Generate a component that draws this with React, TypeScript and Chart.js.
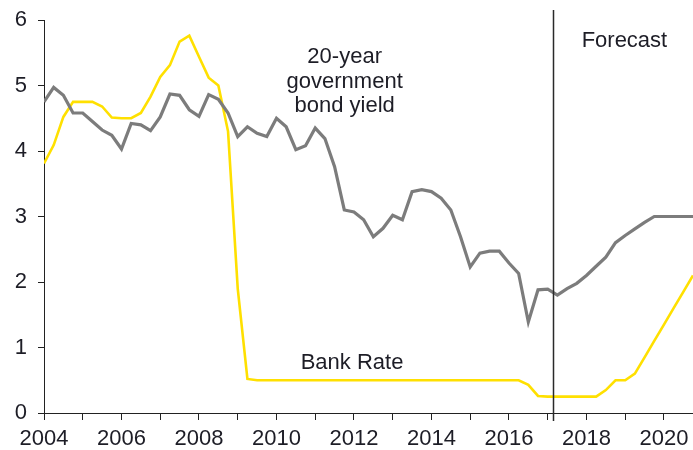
import React, { useEffect, useRef } from "react";
import { Chart, registerables } from "chart.js";

Chart.register(...registerables);

// Quarterly dates (decimal years)
const quarters: number[] = [
  2004.0, 2004.25, 2004.5, 2004.75, 2005.0, 2005.25, 2005.5, 2005.75,
  2006.0, 2006.25, 2006.5, 2006.75, 2007.0, 2007.25, 2007.5, 2007.75,
  2008.0, 2008.25, 2008.5, 2008.75, 2009.0, 2009.25, 2009.5, 2009.75,
  2010.0, 2010.25, 2010.5, 2010.75, 2011.0, 2011.25, 2011.5, 2011.75,
  2012.0, 2012.25, 2012.5, 2012.75, 2013.0, 2013.25, 2013.5, 2013.75,
  2014.0, 2014.25, 2014.5, 2014.75, 2015.0, 2015.25, 2015.5, 2015.75,
  2016.0, 2016.25, 2016.5, 2016.75, 2017.0, 2017.25, 2017.5, 2017.75,
  2018.0, 2018.25, 2018.5, 2018.75, 2019.0, 2019.25, 2019.5, 2019.75,
  2020.0, 2020.25, 2020.5, 2020.75,
];

// 20-year government bond yield (%)
const bondYield: number[] = [
  4.75, 4.97, 4.85, 4.58, 4.58, 4.45, 4.32, 4.24,
  4.03, 4.42, 4.4, 4.31, 4.52, 4.87, 4.85, 4.63,
  4.53, 4.86, 4.79, 4.58, 4.22, 4.37, 4.27, 4.22,
  4.5, 4.37, 4.02, 4.08, 4.35, 4.19, 3.76, 3.1,
  3.07, 2.95, 2.69, 2.82, 3.02, 2.95, 3.38, 3.41,
  3.38, 3.28, 3.1, 2.69, 2.23, 2.44, 2.47, 2.47,
  2.29, 2.13, 1.39, 1.88, 1.89, 1.8, 1.9, 1.98,
  2.1, 2.24, 2.38, 2.6, 2.71, 2.81, 2.91, 3.0,
  3.0, 3.0, 3.0, 3.0,
];

// Bank Rate (%)
const bankRate: number[] = [
  3.81, 4.09, 4.52, 4.75, 4.75, 4.75, 4.68, 4.51,
  4.5, 4.5, 4.58, 4.83, 5.13, 5.31, 5.67, 5.76,
  5.44, 5.12, 5.0, 4.3, 1.9, 0.52, 0.5, 0.5,
  0.5, 0.5, 0.5, 0.5, 0.5, 0.5, 0.5, 0.5,
  0.5, 0.5, 0.5, 0.5, 0.5, 0.5, 0.5, 0.5,
  0.5, 0.5, 0.5, 0.5, 0.5, 0.5, 0.5, 0.5,
  0.5, 0.5, 0.43, 0.26, 0.25, 0.25, 0.25, 0.25,
  0.25, 0.25, 0.35, 0.5, 0.5, 0.6, 0.85, 1.1,
  1.35, 1.6, 1.85, 2.1,
];

const yTicks: number[] = [0, 1, 2, 3, 4, 5, 6];
const xLabelYears: number[] = [2004, 2006, 2008, 2010, 2012, 2014, 2016, 2018, 2020];
const forecastStart = 2017.13;

const yieldLabel: string[] = ["20-year", "government", "bond yield"];
const yieldLabelAt = { x: 2011.76, y: 5.34 };
const bankLabel = "Bank Rate";
const bankLabelAt = { x: 2011.95, y: 0.667 };
const forecastLabel = "Forecast";
const forecastLabelAt = { x: 2018.98, y: 5.59 };

const FONT = "'Liberation Sans', Arial, sans-serif";
const TEXT = "#1d1d26";
const FS = 22;

const annotationPlugin = {
  id: "annotations",
  afterDatasetsDraw(chart: any) {
    const { ctx, scales, chartArea } = chart;
    const xs = scales.x;
    const ys = scales.y;
    ctx.save();
    // forecast divider
    const vx = Math.round(xs.getPixelForValue(forecastStart)) + 0.5;
    ctx.strokeStyle = "#2a2a2a";
    ctx.lineWidth = 1.5;
    ctx.beginPath();
    ctx.moveTo(vx, chartArea.top - 10);
    ctx.lineTo(vx, chartArea.bottom + 8);
    ctx.stroke();

    ctx.fillStyle = TEXT;
    ctx.font = `${FS}px ${FONT}`;
    ctx.textAlign = "center";
    ctx.textBaseline = "alphabetic";
    const lx = xs.getPixelForValue(yieldLabelAt.x);
    const ly = ys.getPixelForValue(yieldLabelAt.y);
    yieldLabel.forEach((t, i) => ctx.fillText(t, lx, ly + i * 24.5));
    ctx.fillText(bankLabel, xs.getPixelForValue(bankLabelAt.x), ys.getPixelForValue(bankLabelAt.y));
    ctx.fillText(forecastLabel, xs.getPixelForValue(forecastLabelAt.x), ys.getPixelForValue(forecastLabelAt.y));
    ctx.restore();
  },
};

export default function App() {
  const ref = useRef<HTMLCanvasElement | null>(null);
  useEffect(() => {
    if (!ref.current) return;
    const chart = new Chart(ref.current, {
      type: "line",
      data: {
        datasets: [
          {
            label: "20-year government bond yield",
            data: quarters.map((q, i) => ({ x: q, y: bondYield[i] })),
            borderColor: "#7c7c7c",
            borderWidth: 3.2,
            pointRadius: 0,
            tension: 0,
          },
          {
            label: "Bank Rate",
            data: quarters.map((q, i) => ({ x: q, y: bankRate[i] })),
            borderColor: "#ffe000",
            borderWidth: 2.6,
            pointRadius: 0,
            tension: 0,
          },
        ],
      },
      options: {
        animation: false,
        responsive: false,
        devicePixelRatio: 1,
        layout: { padding: { top: 20, right: 0, left: 0, bottom: 0 } },
        plugins: { legend: { display: false }, tooltip: { enabled: false } },
        scales: {
          x: {
            type: "linear",
            min: 2004,
            max: 2020.75,
            afterBuildTicks: (scale: any) => {
              const out = [];
              for (let y = 2004; y <= 2020; y++) out.push({ value: y });
              scale.ticks = out;
            },
            afterFit: (scale: any) => {
              scale.height = 37;
              scale.paddingLeft = 0;
              scale.paddingRight = 0;
            },
            ticks: {
              autoSkip: false,
              maxRotation: 0,
              padding: 6,
              color: TEXT,
              font: { family: FONT, size: FS },
              callback: (v: any) => (xLabelYears.includes(Number(v)) ? String(v) : ""),
            },
            grid: { drawOnChartArea: false, tickLength: 7, color: "#222", lineWidth: 1 },
            border: { display: true, color: "#222", width: 1 },
          },
          y: {
            min: 0,
            max: 6,
            afterBuildTicks: (scale: any) => {
              scale.ticks = yTicks.map((v) => ({ value: v }));
            },
            afterFit: (scale: any) => {
              scale.width = 44;
              scale.paddingTop = 0;
              scale.paddingBottom = 0;
            },
            ticks: {
              padding: 11,
              color: TEXT,
              font: { family: FONT, size: FS },
            },
            grid: { drawOnChartArea: false, tickLength: 6, color: "#222", lineWidth: 1 },
            border: { display: true, color: "#222", width: 1 },
          },
        },
      },
      plugins: [annotationPlugin],
    });
    return () => chart.destroy();
  }, []);
  return (
    <div style={{ position: "fixed", left: 0, top: 0, width: 693, height: 450, background: "#fff" }}>
      <canvas ref={ref} width={693} height={450} style={{ display: "block" }} />
    </div>
  );
}
